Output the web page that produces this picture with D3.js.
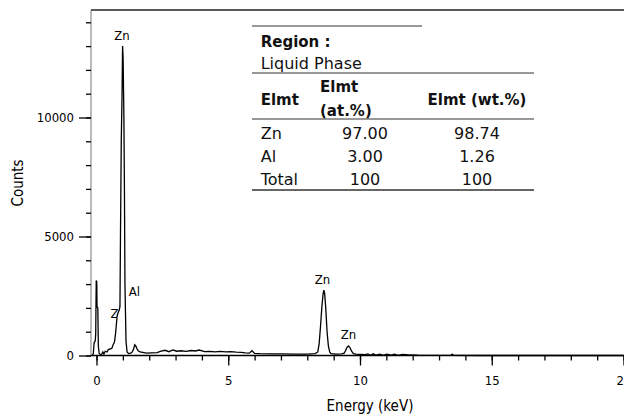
<!DOCTYPE html>
<html>
<head>
<meta charset="utf-8">
<script src="https://cdn.jsdelivr.net/npm/d3@7"></script>
<style>
  body { margin: 0; background: #fff; }
  .ax text { font-family: "Liberation Sans Narrow", "DejaVu Sans Condensed", sans-serif; font-size: 13px; fill: #000; }
  .tbl text { font-family: "DejaVu Sans", sans-serif; fill: #111; }
</style>
</head>
<body>
<div id="chart"></div>
<script>
// spectrum (keV / counts)
const energy = [-0.16, -0.12, -0.09, -0.05, -0.03, -0.01, 0.01, 0.02, 0.05, 0.07, 0.10, 0.14, 0.20, 0.24, 0.28, 0.33,
  0.40, 0.45, 0.52, 0.58, 0.63, 0.68, 0.72, 0.75, 0.78, 0.82, 0.86, 0.89, 0.91, 0.94, 0.97, 0.99, 1.01, 1.04,
  1.06, 1.08, 1.10, 1.12, 1.16, 1.22, 1.30, 1.36, 1.41, 1.45, 1.49, 1.53, 1.58, 1.65, 1.75, 1.9, 2.1, 2.3,
  2.45, 2.6, 2.75, 2.9, 3.05, 3.2, 3.4, 3.6, 3.75, 3.9, 4.1, 4.3, 4.5, 4.7, 4.9, 5.1, 5.3, 5.5, 5.65, 5.8,
  5.9, 6.0, 6.2, 6.6, 7.0, 7.5, 8.0, 8.3, 8.4, 8.45, 8.5, 8.55, 8.6, 8.63, 8.66, 8.7, 8.75, 8.8, 8.85, 8.9,
  9.1, 9.3, 9.4, 9.45, 9.5, 9.56, 9.62, 9.68, 9.75, 9.85, 10.0, 10.2, 10.3, 10.4, 10.5, 10.6, 10.75, 10.9,
  11.0, 11.2, 11.3, 11.45, 11.6, 11.75, 11.9, 12.2, 13.0, 13.45, 13.5, 13.55, 14.5, 20.0];
const counts = [0, 80, 550, 600, 900, 3150, 3100, 2050, 2000, 400, 100, 30, 60, 150, 60, 180,
  150, 250, 280, 300, 450, 550, 900, 1250, 1650, 1800, 1900, 2050, 5000, 9000, 11000, 13000, 12500, 10000,
  7000, 3000, 1800, 600, 150, 80, 100, 150, 280, 450, 400, 300, 200, 150, 130, 100, 110, 120,
  180, 220, 160, 230, 180, 200, 170, 210, 190, 230, 160, 170, 150, 170, 150, 160, 140, 130, 110, 100,
  200, 90, 80, 70, 70, 60, 60, 80, 150, 500, 1200, 2000, 2600, 2750, 2600, 2000, 1000, 400, 150, 80,
  60, 70, 100, 200, 330, 400, 330, 180, 80, 60, 50, 40, 70, 10, 70, 20, 60, 10,
  60, 20, 60, 10, 50, 40, 20, 10, 5, 5, 60, 5, 0, 0];

const xMajor = [0, 5, 10, 15, 20];
const xMinor = d3.range(0, 21, 1);
const yMajor = [0, 5000, 10000];
const yMinor = d3.range(0, 15000, 1000);

const peakNames = ["Zn", "Zn", "Al", "Zn", "Zn"];
const peakEnergy = [0.97, 0.82, 1.44, 8.58, 9.56];
const peakLevel = [13270, 1570, 2510, 3010, 690];

const regionTitle = "Region :";
const regionName = "Liquid Phase";
const colHeads = [["Elmt"], ["Elmt", "(at.%)"], ["Elmt (wt.%)"]];
const elements = ["Zn", "Al", "Total"];
const atPct = ["97.00", "3.00", "100"];
const wtPct = ["98.74", "1.26", "100"];

const W = 624, H = 416;
const svg = d3.select("#chart").append("svg").attr("width", W).attr("height", H);

const x = d3.scaleLinear().domain([0, 20]).range([96.5, 623.5]);
const y = d3.scaleLinear().domain([0, 14000]).range([355.5, 22.3]);
const axL = 91, axT = 10;

const pts = energy.map((e, i) => [e, counts[i]]);

// peak labels (under the spectrum fill so the peak hides part of them)
svg.append("g").attr("class", "ax").selectAll("text").data(peakNames).enter().append("text")
  .attr("x", (d, i) => x(peakEnergy[i]))
  .attr("y", (d, i) => y(peakLevel[i]))
  .attr("text-anchor", "middle")
  .style("font-size", "13px")
  .text(d => d);

svg.append("path").datum(pts)
  .attr("fill", "#fff")
  .attr("d", d3.area().x(d => x(d[0])).y0(y(0)).y1(d => y(d[1])));

svg.append("path").datum(pts)
  .attr("fill", "none").attr("stroke", "#000").attr("stroke-width", 1.3)
  .attr("stroke-linejoin", "miter")
  .attr("d", d3.line().x(d => x(d[0])).y(d => y(d[1])));

// frame
svg.append("line").attr("x1", axL).attr("x2", W).attr("y1", axT).attr("y2", axT)
  .attr("stroke", "#222").attr("stroke-width", 1.5);
svg.append("line").attr("x1", axL).attr("x2", axL).attr("y1", axT).attr("y2", y(0))
  .attr("stroke", "#777").attr("stroke-width", 1);

// y axis
const gy = svg.append("g").attr("class", "ax").attr("transform", "translate(" + axL + ",0)");
gy.call(d3.axisLeft(y).tickValues(yMinor).tickSize(5).tickFormat(""));
gy.append("g").call(d3.axisLeft(y).tickValues(yMajor).tickSize(12).tickPadding(5).tickFormat(d3.format("d")));
gy.selectAll(".domain").remove();
gy.selectAll("line").attr("stroke", "#000").attr("stroke-width", 1.3);
gy.selectAll("text").attr("x", -17);

// x axis
const gx = svg.append("g").attr("class", "ax").attr("transform", "translate(0," + y(0) + ")");
gx.call(d3.axisBottom(x).tickValues(xMinor).tickSize(5).tickFormat(""));
gx.append("g").call(d3.axisBottom(x).tickValues(xMajor).tickSize(10).tickPadding(10).tickFormat(d3.format("d")));
gx.selectAll(".domain").remove();
gx.selectAll("line").attr("stroke", "#000").attr("stroke-width", 1.3);
svg.append("line").attr("x1", axL).attr("x2", W).attr("y1", y(0)).attr("y2", y(0))
  .attr("stroke", "#000").attr("stroke-width", 1.5);

svg.append("text").attr("class", "lbl")
  .attr("x", 370).attr("y", 411).attr("text-anchor", "middle")
  .style("font-family", "'Liberation Sans Narrow', 'DejaVu Sans Condensed', sans-serif").style("font-size", "15px")
  .text("Energy (keV)");
svg.append("text")
  .attr("transform", "translate(23,183) rotate(-90)").attr("text-anchor", "middle")
  .style("font-family", "'Liberation Sans Narrow', 'DejaVu Sans Condensed', sans-serif").style("font-size", "15px")
  .text("Counts");

// composition table
const tb = svg.append("g").attr("class", "tbl");
const tx0 = 252, tx1 = 534, tLeft = 260.7;
const colX = [tLeft, 365, 477];
tb.append("line").attr("x1", tx0).attr("x2", 422).attr("y1", 26).attr("y2", 26).attr("stroke", "#333");
[73, 119, 190].forEach(yy => tb.append("line").attr("x1", tx0).attr("x2", tx1).attr("y1", yy).attr("y2", yy)
  .attr("stroke", "#333").attr("stroke-width", yy === 190 ? 1.5 : 1.2));
tb.append("text").attr("x", tLeft).attr("y", 47).style("font-size", "15px").style("font-weight", "bold").text(regionTitle);
tb.append("text").attr("x", tLeft).attr("y", 69).style("font-size", "16px").text(regionName);

tb.append("text").attr("x", tLeft).attr("y", 105).style("font-size", "15px").style("font-weight", "bold").text(colHeads[0][0]);
colHeads[1].forEach((t, i) => tb.append("text").attr("x", 320).attr("y", 92 + i * 24)
  .style("font-size", "15px").style("font-weight", "bold").text(t));
tb.append("text").attr("x", 477).attr("y", 105).attr("text-anchor", "middle")
  .style("font-size", "15px").style("font-weight", "bold").text(colHeads[2][0]);

elements.forEach((el, i) => {
  const yy = 139 + i * 23;
  tb.append("text").attr("x", colX[0]).attr("y", yy).style("font-size", "16px").text(el);
  tb.append("text").attr("x", colX[1]).attr("y", yy).attr("text-anchor", "middle").style("font-size", "16px").text(atPct[i]);
  tb.append("text").attr("x", colX[2]).attr("y", yy).attr("text-anchor", "middle").style("font-size", "16px").text(wtPct[i]);
});
</script>
</body>
</html>
